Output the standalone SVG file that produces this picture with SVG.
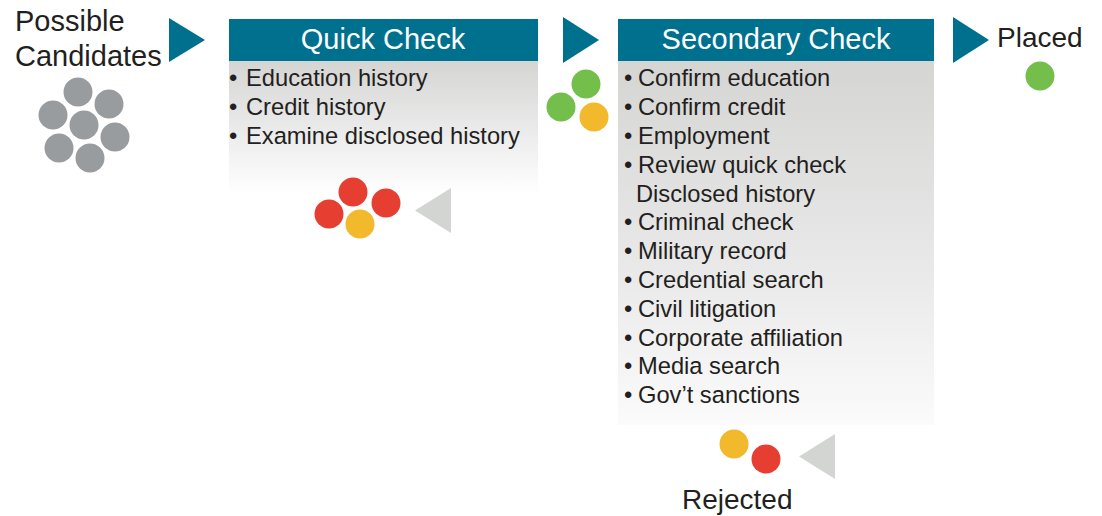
<svg xmlns="http://www.w3.org/2000/svg" width="1102" height="516" viewBox="0 0 1102 516">
  <defs>
    <linearGradient id="fadeQuick" x1="0" y1="0" x2="0" y2="1">
      <stop offset="0" stop-color="#d5d5d4"/>
      <stop offset="0.55" stop-color="#ececec"/>
      <stop offset="1" stop-color="#ffffff"/>
    </linearGradient>
    <linearGradient id="fadeSecondary" x1="0" y1="0" x2="0" y2="1">
      <stop offset="0" stop-color="#d5d5d4"/>
      <stop offset="0.6" stop-color="#eaeaea"/>
      <stop offset="1" stop-color="#fbfbfb"/>
    </linearGradient>
    <style>
      text { font-family: "Liberation Sans", Arial, sans-serif; fill: #231f20; }
      .label { font-size: 28px; }
      .pool { font-size: 29px; }
      .head { font-size: 29px; fill: #ffffff; text-anchor: middle; }
      .item { font-size: 23.7px; }
      .bar { fill: #00708f; }
      .flow { fill: #00708f; }
      .back { fill: #d3d5d3; }
      .grey { fill: #989c9e; }
      .green { fill: #74bf4b; }
      .red { fill: #e63e30; }
      .amber { fill: #f1b92b; }
    </style>
  </defs>

  <!-- start pool -->
  <g id="candidates">
    <text class="label pool" x="15" y="31">Possible</text>
    <text class="label pool" x="15" y="66">Candidates</text>
    <circle class="grey" cx="78" cy="92" r="14.5"/>
    <circle class="grey" cx="109" cy="104" r="14.5"/>
    <circle class="grey" cx="53" cy="115" r="14.5"/>
    <circle class="grey" cx="84" cy="125" r="14.5"/>
    <circle class="grey" cx="115" cy="137" r="14.5"/>
    <circle class="grey" cx="59" cy="148" r="14.5"/>
    <circle class="grey" cx="90" cy="158" r="14.5"/>
  </g>

  <!-- first screening stage -->
  <g id="quick-check">
    <rect x="229" y="61" width="309" height="134" fill="url(#fadeQuick)"/>
    <rect class="bar" x="229" y="19" width="309" height="42"/>
    <text class="head" x="383" y="49">Quick Check</text>
    <text class="item" x="229" y="86"><tspan>•</tspan><tspan x="246">Education history</tspan></text>
    <text class="item" x="229" y="115"><tspan>•</tspan><tspan x="246">Credit history</tspan></text>
    <text class="item" x="229" y="144"><tspan>•</tspan><tspan x="246">Examine disclosed history</tspan></text>
  </g>

  <!-- second screening stage -->
  <g id="secondary-check">
    <rect x="618" y="61" width="316" height="364" fill="url(#fadeSecondary)"/>
    <rect class="bar" x="618" y="19" width="316" height="42"/>
    <text class="head" x="776" y="49">Secondary Check</text>
    <text class="item" x="624" y="86"><tspan>•</tspan><tspan x="638">Confirm education</tspan></text>
    <text class="item" x="624" y="115"><tspan>•</tspan><tspan x="638">Confirm credit</tspan></text>
    <text class="item" x="624" y="144"><tspan>•</tspan><tspan x="638">Employment</tspan></text>
    <text class="item" x="624" y="173"><tspan>•</tspan><tspan x="638">Review quick check</tspan></text>
    <text class="item" x="636" y="202">Disclosed history</text>
    <text class="item" x="624" y="230"><tspan>•</tspan><tspan x="638">Criminal check</tspan></text>
    <text class="item" x="624" y="259"><tspan>•</tspan><tspan x="638">Military record</tspan></text>
    <text class="item" x="624" y="288"><tspan>•</tspan><tspan x="638">Credential search</tspan></text>
    <text class="item" x="624" y="317"><tspan>•</tspan><tspan x="638">Civil litigation</tspan></text>
    <text class="item" x="624" y="346"><tspan>•</tspan><tspan x="638">Corporate affiliation</tspan></text>
    <text class="item" x="624" y="374"><tspan>•</tspan><tspan x="638">Media search</tspan></text>
    <text class="item" x="624" y="403"><tspan>•</tspan><tspan x="638">Gov’t sanctions</tspan></text>
  </g>

  <!-- candidates passed on after the quick check -->
  <g id="passed-quick">
    <circle class="green" cx="586" cy="84" r="14.5"/>
    <circle class="green" cx="561" cy="107" r="14.5"/>
    <circle class="amber" cx="594" cy="117" r="14.5"/>
  </g>

  <!-- candidates dropped by the quick check -->
  <g id="dropped-quick">
    <circle class="red" cx="353" cy="192" r="14.5"/>
    <circle class="red" cx="386" cy="203" r="14.5"/>
    <circle class="red" cx="329" cy="214" r="14.5"/>
    <circle class="amber" cx="360" cy="224" r="14.5"/>
  </g>

  <!-- end states -->
  <g id="placed">
    <text class="label" x="997" y="47">Placed</text>
    <circle class="green" cx="1040" cy="76" r="14.5"/>
  </g>

  <g id="rejected">
    <circle class="amber" cx="734" cy="444" r="14.5"/>
    <circle class="red" cx="766" cy="459" r="14.5"/>
    <text class="label" x="682" y="509">Rejected</text>
  </g>

  <!-- flow arrows -->
  <g id="connectors">
    <polygon class="flow" points="169,18 205,40 169,62"/>
    <polygon class="flow" points="563,17 599,40 563,63"/>
    <polygon class="flow" points="953,17 989,40 953,63"/>
    <polygon class="back" points="451,188 415,210.5 451,233"/>
    <polygon class="back" points="835,434 799,456.5 835,479"/>
  </g>
</svg>
